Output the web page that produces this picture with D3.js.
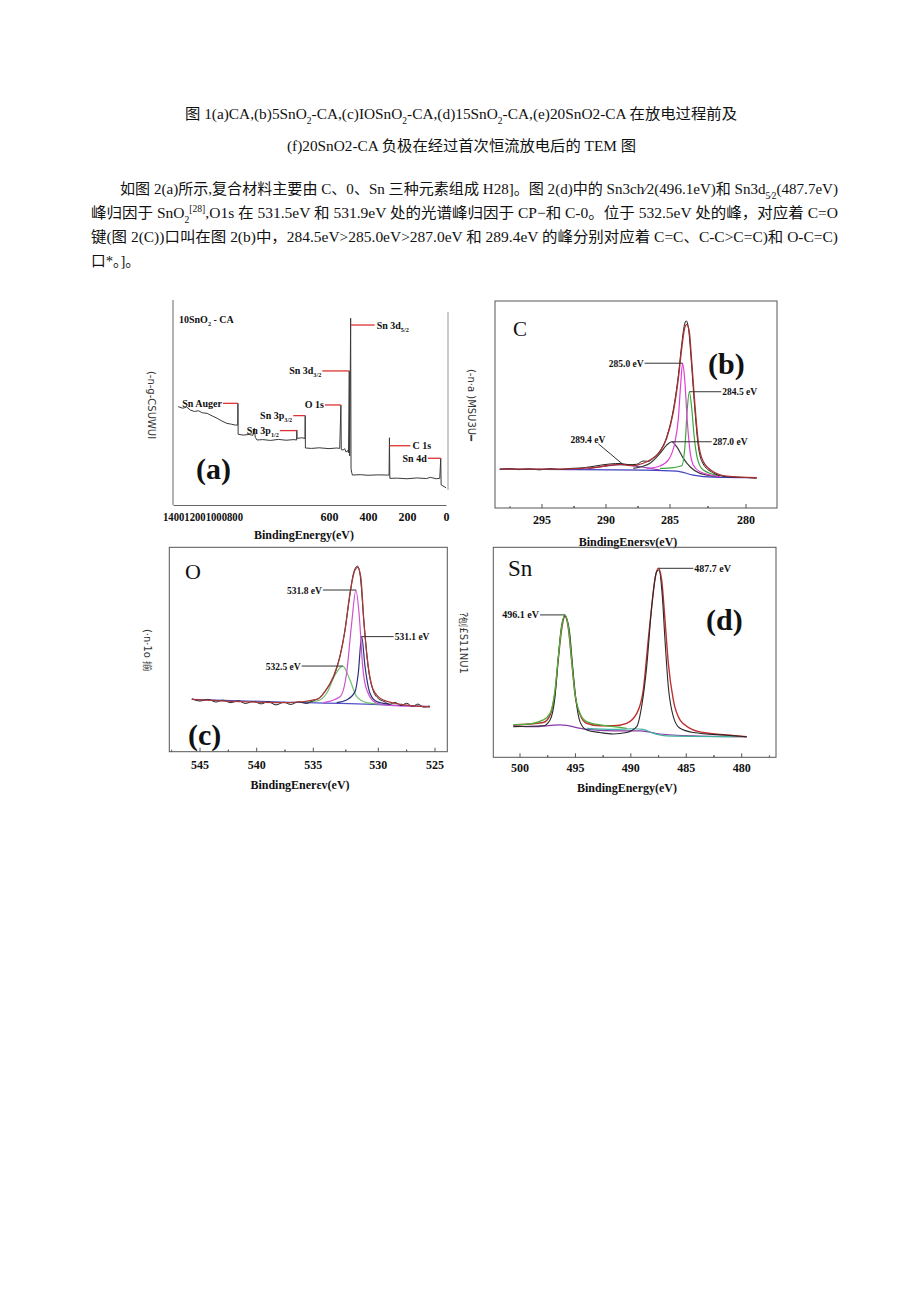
<!DOCTYPE html>
<html><head><meta charset="utf-8">
<script src="https://cdn.jsdelivr.net/npm/d3@7"></script>
<style>body{margin:0;background:#fff}svg{display:block}</style>
</head><body><svg id="page" width="920" height="1301"></svg>
<script>
// ---------------- DATA ----------------
const titleLines = [
  [["图 1(a)CA,(b)5SnO"],["2","sub"],["-CA,(c)IOSnO"],["2","sub"],["-CA,(d)15SnO"],["2","sub"],["-CA,(e)20SnO2-CA 在放电过程前及"]],
  [["(f)20SnO2-CA 负极在经过首次恒流放电后的 TEM 图"]]
];
const paraLines = [
  [["如图 2(a)所示,复合材料主要由 C、0、Sn 三种元素组成 H28]。图 2(d)中的 Sn3ch⁄2(496.1eV)和 Sn3d"],["5⁄2","sub"],["(487.7eV)"]],
  [["峰归因于 SnO"],["2","sub"],["[28]","sup"],[",O1s 在 531.5eV 和 531.9eV 处的光谱峰归因于 CP−和 C-0。位于 532.5eV 处的峰，对应着 C=O"]],
  [["键(图 2(C))口叫在图 2(b)中，284.5eV>285.0eV>287.0eV 和 289.4eV 的峰分别对应着 C=C、C-C>C=C)和 O-C=C)"]],
  [["口*。]。"]]
];

// panel (a) survey spectrum [eV, intensity]
const surveyA = [[1374,48.0],[1350,47.2],[1330,47.8],[1311,46.3],[1290,45.6],[1270,46.0],[1250,45.0],[1225,44.7],[1200,43.5],[1174,42.3],[1150,41.0],[1123,39.8],[1100,39.4],[1080,39.0],[1068,39.0],[1067,49.6],[1066,34.5],[1040,34.1],[1010,34.4],[990,34.0],[983,37.4],[978,33.0],[969,31.7],[940,31.9],[900,31.5],[860,32.0],[820,31.6],[780,31.9],[766,31.7],[765,36.6],[764,32.5],[740,32.8],[723,32.5],[722,43.6],[721,27.8],[690,27.6],[650,27.9],[600,27.5],[560,27.8],[545,27.6],[539,48.8],[537,27.0],[527,26.8],[520,27.5],[512,25.8],[505,26.6],[500,25.5],[496,65.4],[494,24.0],[489,91.1],[487,17.9],[484,16.0],[480,14.6],[440,14.8],[400,14.5],[350,14.7],[300,14.6],[292,14.6],[290,32.8],[288,13.0],[250,13.1],[200,12.8],[150,13.2],[100,12.9],[80,13.5],[50,12.8],[32,13.0],[27,22.8],[25,9.8],[10,9.0],[0,8.4]];
const ticksA = [600,400,200,0];
const ticksAsqueezed = ["1400","1200","1000","800"];
const annotA = [
  {label:["Sn 3d","5/2"], ev:489, I:87.8, side:"right"},
  {label:["Sn 3d","3/2"], ev:496, I:65.4, side:"left"},
  {label:["Sn Auger"], ev:1067, I:49.6, side:"left"},
  {label:["O 1s"], ev:539, I:48.8, side:"left"},
  {label:["Sn 3p","3/2"], ev:722, I:43.6, side:"left"},
  {label:["Sn 3p","1/2"], ev:765, I:36.3, side:"left"},
  {label:["C 1s"], ev:290, I:28.9, side:"right"},
  {label:["Sn 4d"], ev:27, I:22.8, side:"left"}
];

// panel (b) C 1s
const ticksB = [295,290,285,280];
const envB = [[298.3,18.7],[293.6,18.7],[291.0,19.4],[289.95,20.3],[288.9,21.0],[287.9,20.3],[287.1,21.5],[286.56,23.1],[285.78,27.1],[285.26,33.6],[284.78,46.4],[284.45,62.6],[284.23,77.1],[284.01,87.6],[283.9,88.7],[283.73,85.2],[283.57,70.6],[283.36,49.7],[283.14,31.9],[282.81,22.3],[282.15,17.4],[281.27,15.3],[279.3,14.5]];
const rawB = [[298.3,18.5],[297.5,18.9],[296.8,18.4],[296.0,18.8],[295.2,18.3],[294.4,18.9],[293.6,18.5],[292.8,19.0],[292.0,19.2],[291.2,19.8],[290.4,20.6],[289.6,21.2],[288.9,21.4],[288.2,20.8],[287.6,21.0],[287.1,22.6],[286.7,22.4],[286.3,24.0],[285.78,27.5],[285.26,34.2],[284.78,47.5],[284.45,64.0],[284.23,79.0],[284.05,88.5],[283.93,90.4],[283.78,86.5],[283.6,71.0],[283.38,49.0],[283.16,31.0],[282.85,21.6],[282.2,17.0],[281.3,15.0],[280.0,14.6],[279.3,14.3]];
const magB = [[286.82,19.0],[285.78,20.2],[285.13,23.1],[284.67,31.9],[284.45,43.2],[284.3,59.4],[284.17,69.9],[284.04,62.6],[283.86,41.6],[283.68,27.1],[283.47,20.7],[283.03,17.4],[281.71,15.0]];
const greenB = [[285.78,19.0],[284.78,19.4],[284.23,20.3],[284.01,30.3],[283.86,48.1],[283.73,56.1],[283.57,48.1],[283.42,35.2],[283.2,23.9],[282.81,18.2],[281.71,15.3]];
const grayB = [[287.87,19.0],[286.56,21.5],[285.78,26.3],[285.26,30.3],[284.89,31.9],[284.56,29.5],[284.12,23.9],[283.68,19.8],[283.03,16.6],[281.71,15.0]];
const purpleB = [[291.5,18.7],[289.95,20.2],[288.65,20.8],[287.34,19.8],[285.78,18.2]];
const baseB = [[298.3,18.7],[286.82,18.2],[284.56,17.7],[283.47,15.8],[282.15,14.8],[279.3,14.5]];
const annotB = [
  {t:"285.0 eV", ev:284.17, I:69.9, side:"left"},
  {t:"284.5 eV", ev:283.73, I:56.1, side:"right"},
  {t:"287.0 eV", ev:284.89, I:31.9, side:"right"},
  {t:"289.4 eV", ev:288.65, I:20.8, side:"diag"}
];

// panel (c) O 1s
const ticksC = [545,540,535,530,525];
const envC = [[545.73,25.6],[541.47,24.5],[537.06,24.0],[534.74,25.6],[534.10,29.4],[533.46,36.7],[532.95,46.5],[532.56,59.5],[532.18,77.5],[531.79,88.9],[531.58,90.2],[531.35,85.6],[531.10,62.8],[530.77,41.6],[530.38,30.2],[529.56,25.3],[527.50,22.8],[525.44,22.0]];
const rawC = [[545.7,25.9],[545.0,24.8],[544.3,25.6],[543.6,24.3],[543.0,25.2],[542.3,24.0],[541.6,24.9],[541.0,23.6],[540.3,24.6],[539.6,23.4],[539.0,24.5],[538.3,22.9],[537.6,24.2],[537.0,23.1],[536.3,24.4],[535.6,23.6],[535.0,25.0],[534.5,26.5],[534.1,29.6],[533.7,33.5],[533.4,37.2],[533.0,45.5],[532.6,58.0],[532.2,76.0],[531.9,87.5],[531.6,90.8],[531.4,86.5],[531.1,63.0],[530.8,42.5],[530.4,30.0],[530.0,26.0],[529.5,24.6],[529.0,23.2],[528.5,24.1],[528.0,22.6],[527.5,23.7],[527.0,22.2],[526.5,23.3],[526.0,21.8],[525.5,22.4]];
const magC = [[534.23,24.0],[532.95,26.9],[532.44,38.4],[532.05,62.8],[531.72,79.1],[531.46,66.0],[531.20,41.6],[530.89,30.2],[530.12,23.7],[528.68,22.5],[525.44,22.0]];
const navyC = [[533.2,24.0],[532.44,25.3],[531.79,29.4],[531.54,38.4],[531.28,56.3],[531.02,41.6],[530.64,28.6],[530.12,24.5],[529.0,23.2]];
const greenC = [[535.5,24.4],[534.74,24.8],[533.97,28.6],[533.33,37.5],[532.74,41.9],[532.18,35.1],[531.66,26.9],[530.89,24.0],[529.8,23.3]];
const baseC = [[545.73,25.6],[537.06,24.2],[534.2,23.8],[530.4,23.2],[525.44,22.0]];
const annotC = [
  {t:"531.8 eV", ev:531.72, I:79.1, side:"left"},
  {t:"531.1 eV", ev:531.28, I:56.3, side:"right"},
  {t:"532.5 eV", ev:532.74, I:41.9, side:"left"}
];

// panel (d) Sn 3d
const ticksD = [500,495,490,485,480];
const redD = [[500.6,15.4],[497.9,16.6],[497.29,20.1],[496.84,31.0],[496.54,47.0],[496.24,61.0],[495.94,67.2],[495.64,61.5],[495.34,46.0],[495.04,30.0],[494.59,20.5],[493.99,16.2],[492.78,15.0],[491.58,15.0],[490.38,16.2],[489.47,20.9],[488.88,32.0],[488.43,55.9],[488.12,71.7],[487.82,85.0],[487.52,90.0],[487.22,84.4],[486.92,65.4],[486.62,44.8],[486.17,27.3],[485.57,17.8],[484.66,13.8],[483.46,11.8],[481.35,10.6],[479.55,9.8]];
const greenD = [[500.6,15.6],[499.4,15.8],[497.9,17.8],[497.29,20.9],[496.84,32.0],[496.54,47.9],[496.24,62.2],[495.94,67.8],[495.64,62.2],[495.34,46.3],[495.04,30.4],[494.59,20.9],[493.99,17.0],[492.78,15.4],[491.58,14.6],[490.38,13.8]];
const rawD = [[500.6,14.6],[497.9,15.0],[497.29,17.8],[496.84,28.9],[496.54,47.9],[496.24,63.0],[495.94,67.3],[495.55,60.6],[495.25,43.2],[494.95,27.3],[494.59,17.0],[493.99,13.0],[492.78,11.8],[491.58,11.1],[490.38,11.8],[489.47,14.6],[489.03,24.1],[488.57,43.2],[488.12,71.7],[487.67,88.4],[487.46,89.2],[487.16,76.5],[486.92,55.9],[486.62,33.6],[486.17,19.4],[485.57,13.8],[484.36,11.8],[481.35,10.5],[479.55,9.8]];
const purpleD = [[500.6,15.0],[498.8,14.6],[496.39,15.4],[493.99,13.3],[491.58,12.6],[489.17,12.6],[487.37,11.1],[484.36,10.2],[479.55,9.8]];
const tealD = [[493.99,13.8],[491.58,13.3],[489.78,13.6],[488.9,13.3],[487.97,11.4],[486.77,10.2],[479.55,9.8]];
const annotD = [
  {t:"487.7 eV", ev:487.52, I:90.0, side:"right"},
  {t:"496.1 eV", ev:495.94, I:67.8, side:"left"}
];

const axisTitles = ["BindingEnergy(eV)","BindingEnersv(eV)","BindingEnerεv(eV)","BindingEnergy(eV)"];
const yLabels = ["(-n-g-CSUWUI","(-n·a )MSU3U━","(·n·1o 揃","?刨£S11NU1"];
const elementTags = ["C","O","Sn"];
const panelTags = ["(a)","(b)","(c)","(d)"];

// ---------------- DRAWING ----------------
const svg = d3.select("#page");
const serif = "'Liberation Serif','Noto Sans CJK SC',serif";
const sans = "'DejaVu Sans','Liberation Sans',sans-serif";

function rich(parent, segs, x, y, size, opt={}) {
  const t = parent.append("text").attr("x",x).attr("y",y)
    .style("font-family", opt.family||serif).style("font-size", size+"px")
    .style("font-weight", opt.weight||"normal").attr("text-anchor", opt.anchor||"start")
    .attr("fill", opt.fill||"#111");
  let shift = 0;
  segs.forEach(([s,type]) => {
    const ts = t.append("tspan").text(s);
    const target = type==="sub" ? size*0.3 : type==="sup" ? -size*0.4 : 0;
    if (target !== shift) { ts.attr("dy", target-shift); shift = target; }
    if (type) ts.style("font-size", (size*0.62)+"px");
  });
  if (opt.len) t.attr("textLength", opt.len).attr("lengthAdjust","spacingAndGlyphs");
  return t;
}

// header text
const titleLayout = [{x:185,y:119,w:552},{x:287,y:151,w:349}];
titleLines.forEach((l,i)=>rich(svg,l,titleLayout[i].x,titleLayout[i].y,15,{len:titleLayout[i].w}));
const paraLayout = [{x:120,y:194,w:718},{x:91,y:218,w:747},{x:91,y:242,w:747},{x:91,y:266,w:49}];
paraLines.forEach((l,i)=>rich(svg,l,paraLayout[i].x,paraLayout[i].y,15,{len:paraLayout[i].w}));

function linePath(g, data, x, y, color, w, curve) {
  g.append("path").datum(data)
    .attr("d", d3.line().x(d=>x(d[0])).y(d=>y(d[1])).curve(curve||d3.curveMonotoneX))
    .attr("fill","none").attr("stroke",color).attr("stroke-width",w||1).attr("stroke-linejoin","round");
}
function yLabel(text, cx, cy) {
  svg.append("text").attr("transform",`translate(${cx},${cy}) rotate(90)`)
    .attr("text-anchor","middle").attr("dominant-baseline","middle")
    .style("font-family",sans).style("font-size","10px").attr("fill","#333").text(text);
}
function boldText(g, s, x, y, size, anchor) {
  return g.append("text").attr("x",x).attr("y",y).attr("text-anchor",anchor||"middle")
    .style("font-family",serif).style("font-weight","bold").style("font-size",size+"px").attr("fill","#111").text(s);
}

// ----- panel (a)
{
  const g = svg.append("g");
  const x = d3.scaleLinear().domain([1400,0]).range([173,446]);
  const y = d3.scaleLinear().domain([0,100]).range([505,300]);
  g.append("line").attr("x1",173).attr("x2",173).attr("y1",300).attr("y2",505).attr("stroke","#666");
  g.append("line").attr("x1",448).attr("x2",448).attr("y1",312).attr("y2",490).attr("stroke","#999");
  g.append("g").attr("transform","translate(0,505)")
    .call(d3.axisBottom(x).tickValues(ticksA).tickSize(0).tickPadding(7).tickFormat(d3.format("d")))
    .call(a=>a.select(".domain").attr("stroke","#666"))
    .call(a=>a.selectAll("text").style("font-family",serif).style("font-weight","bold").style("font-size","12px").attr("fill","#111"));
  boldText(g, ticksAsqueezed.join(""), x(1400)-10, 521, 12, "start").attr("textLength",80).attr("lengthAdjust","spacingAndGlyphs");
  linePath(g, surveyA, x, y, "#3a3a3a", 1, d3.curveLinear);
  const lens = [24,27,15,16,12,17,21,13];
  annotA.forEach((a,i)=>{
    const x0 = x(a.ev), yy = y(a.I);
    const x1 = a.side==="right" ? x0+lens[i] : x0-lens[i];
    g.append("line").attr("x1",x0).attr("x2",x1).attr("y1",yy).attr("y2",yy).attr("stroke","#dd3333").attr("stroke-width",1.3);
    const segs = [[a.label[0]]]; if (a.label[1]) segs.push([a.label[1],"sub"]);
    rich(g, segs, a.side==="right"? x1+2 : x1-1, yy+3.5, 10, {weight:"bold", anchor:a.side==="right"?"start":"end"});
  });
  rich(g, [["10SnO"],["2","sub"],[" - CA"]], 179, 323, 10, {weight:"bold"});
  boldText(g, panelTags[0], 196, 479, 30, "start");
  boldText(g, axisTitles[0], 304, 539, 12);
  yLabel(yLabels[0], 151, 405);
}

function framedPanel(cfg) {
  const g = svg.append("g");
  const {x,y,L,R,T,B} = cfg;
  g.append("rect").attr("x",L).attr("y",T).attr("width",R-L).attr("height",B-T).attr("fill","none").attr("stroke","#555");
  cfg.ticks.forEach(v=>{
    g.append("line").attr("x1",x(v)).attr("x2",x(v)).attr("y1",B).attr("y2",B-4).attr("stroke","#555");
    boldText(g, String(v), x(v), cfg.tickY, 12);
  });
  cfg.ticks.forEach(v=>{
    [v + cfg.step/2, v - cfg.step/2].forEach(m=>{
      const xm = x(m);
      if (xm>L+2 && xm<R-2) g.append("line").attr("x1",xm).attr("x2",xm).attr("y1",B).attr("y2",B-2).attr("stroke","#555");
    });
  });
  return g;
}
function annot(g, list, x, y, lens, size) {
  list.forEach((a,i)=>{
    const x0 = x(a.ev), y0 = y(a.I);
    if (a.side==="diag") {
      const x1 = x0-lens[i][0], y1 = y0-lens[i][1];
      g.append("line").attr("x1",x0).attr("y1",y0).attr("x2",x1).attr("y2",y1).attr("stroke","#333");
      boldText(g, a.t, x1+7, y1-1, size, "end");
      return;
    }
    const x1 = a.side==="right" ? x0+lens[i] : x0-lens[i];
    g.append("line").attr("x1",x0).attr("x2",x1).attr("y1",y0).attr("y2",y0).attr("stroke","#333");
    boldText(g, a.t, a.side==="right"? x1+1 : x1-1, y0+3.5, size, a.side==="right"?"start":"end");
  });
}

// ----- panel (b)
{
  const x = d3.scaleLinear().domain(ticksB).range([542,606,670,746]);
  const y = d3.scaleLinear().domain([0,100]).range([507.7,301]);
  const g = framedPanel({x,y,L:495,R:777,T:301,B:508,ticks:ticksB,tickY:524,step:5});
  linePath(g, baseB, x, y, "#4040c0", 1.2);
  linePath(g, purpleB, x, y, "#8a3aa8", 1.2);
  linePath(g, grayB, x, y, "#3a3a3a", 1.2);
  linePath(g, greenB, x, y, "#3aa83a", 1.2);
  linePath(g, magB, x, y, "#e040d8", 1.2);
  linePath(g, rawB, x, y, "#222", 1);
  linePath(g, envB, x, y, "#a83030", 1.3);
  annot(g, annotB, x, y, [38,32,40,[25,21]], 9.5);
  g.append("text").attr("x",513).attr("y",336).style("font-family",serif).style("font-size","21px").attr("fill","#111").text(elementTags[0]);
  boldText(g, panelTags[1], 708, 374, 30, "start");
  boldText(g, axisTitles[1], 628, 546, 12);
  yLabel(yLabels[1], 471, 405);
}

// ----- panel (c)
{
  const x = d3.scaleLinear().domain(ticksC).range([200,256.7,313.3,378.3,435]);
  const y = d3.scaleLinear().domain([0,100]).range([751.7,547.3]);
  const g = framedPanel({x,y,L:169.3,R:447.3,T:547.3,B:751.7,ticks:ticksC,tickY:769,step:5});
  linePath(g, baseC, x, y, "#5050c8", 1.2);
  linePath(g, greenC, x, y, "#70c070", 1.2);
  linePath(g, navyC, x, y, "#303080", 1.2);
  linePath(g, magC, x, y, "#d050d0", 1.2);
  linePath(g, rawC, x, y, "#222", 1);
  linePath(g, envC, x, y, "#a83a3a", 1.3);
  annot(g, annotC, x, y, [33,32,41], 9.5);
  g.append("text").attr("x",185).attr("y",579).style("font-family",serif).style("font-size","22px").attr("fill","#111").text(elementTags[1]);
  boldText(g, panelTags[2], 188, 745, 30, "start");
  boldText(g, axisTitles[2], 300, 789, 12);
  yLabel(yLabels[2], 147, 650);
}

// ----- panel (d)
{
  const x = d3.scaleLinear().domain([500,480]).range([520,741.7]);
  const y = d3.scaleLinear().domain([0,100]).range([757.3,547.3]);
  const g = framedPanel({x,y,L:493.3,R:776,T:547.3,B:757.3,ticks:ticksD,tickY:772,step:5});
  linePath(g, purpleD, x, y, "#8a3aa8", 1.2);
  linePath(g, tealD, x, y, "#40b0a0", 1.2);
  linePath(g, redD, x, y, "#c03030", 1.4);
  linePath(g, rawD, x, y, "#2a2a2a", 1.1);
  linePath(g, greenD, x, y, "#50b040", 1.3);
  annot(g, annotD, x, y, [35,25], 10);
  g.append("text").attr("x",508).attr("y",576).style("font-family",serif).style("font-size","23px").attr("fill","#111").text(elementTags[2]);
  boldText(g, panelTags[3], 706, 630, 30, "start");
  boldText(g, axisTitles[3], 627, 792, 12);
  yLabel(yLabels[3], 463, 643);
}
</script></body></html>
